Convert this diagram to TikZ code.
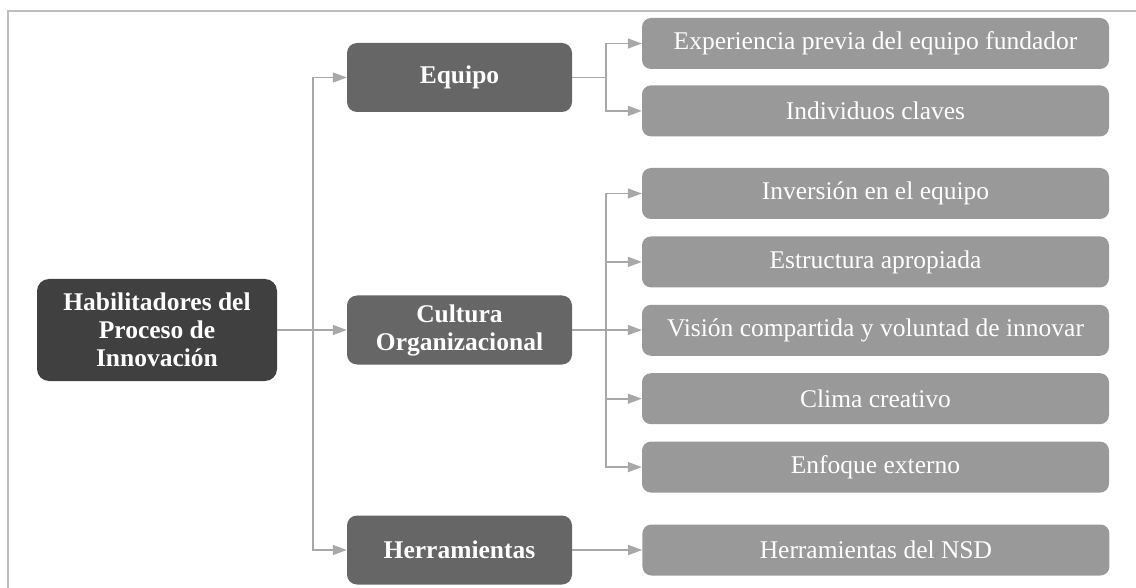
\documentclass[tikz,border=0pt]{standalone}
\usepackage{fontspec}
\setmainfont{Liberation Serif}
\usepackage{tikz}
\usetikzlibrary{arrows.meta, positioning}

\definecolor{raizgris}{HTML}{404040}
\definecolor{grupogris}{HTML}{666666}
\definecolor{hojagris}{HTML}{999999}
\definecolor{lineagris}{HTML}{A8A8A8}
\definecolor{marcogris}{HTML}{BEBEBE}

\begin{document}
\begin{tikzpicture}[
      x=1pt, y=-1pt,
      font=\fontsize{25.5}{28}\selectfont,
      raiz/.style={
          rectangle,
          rounded corners=12pt,
          align=center,
          minimum width=240pt,
          minimum height=102pt,
          inner sep=0pt,
          text=white,
          font=\fontsize{25.5}{28}\selectfont\bfseries,
          fill=raizgris
        },
      grupo/.style={
          rectangle,
          rounded corners=10pt,
          align=center,
          minimum width=225pt,
          minimum height=69pt,
          inner sep=0pt,
          text=white,
          font=\fontsize{25.5}{28}\selectfont\bfseries,
          fill=grupogris
        },
      hoja/.style={
          rectangle,
          rounded corners=9pt,
          align=center,
          minimum width=467pt,
          minimum height=51pt,
          inner sep=0pt,
          text=white,
          fill=hojagris
        },
      linea/.style={
          draw=lineagris,
          line width=1.6pt
        },
      flecha/.style={
          linea,
          -{Triangle[length=14pt,width=10pt]}
        }
    ]
    \useasboundingbox (0,0) rectangle (1136,588);

    % Marco
    \draw[draw=marcogris, line width=2pt] (8,590) -- (8,11) -- (1138,11);

    % Raiz
    \node[raiz] (habil) at (157,330) {Habilitadores del\\Proceso de\\Innovación};

    % Grupos
    \node[grupo] (equipo) at (459.5,77.5) {Equipo};
    \node[grupo] (cultura) at (459.5,330) {Cultura\\Organizacional};
    \node[grupo] (herram) at (459.5,550) {Herramientas};

    % Hojas: Equipo
    \node[hoja] (exper) at (875.5,43.5) {Experiencia previa del equipo fundador};
    \node[hoja, below=16pt of exper] (indiv) {Individuos claves};

    % Hojas: Cultura
    \node[hoja] (invers) at (875.5,193.5) {Inversión en el equipo};
    \node[hoja, below=17pt of invers] (estruc) {Estructura apropiada};
    \node[hoja, below=17pt of estruc] (vision) {Visión compartida y voluntad de innovar};
    \node[hoja, below=17pt of vision] (clima) {Clima creativo};
    \node[hoja, below=17pt of clima] (enfoque) {Enfoque externo};

    % Hojas: Herramientas
    \node[hoja, right=70pt of herram] (nsd) {Herramientas del NSD};

    % Puntos de rama
    \coordinate (tronco) at (313,330);
    \coordinate (ramaE) at (606,77.5);
    \coordinate (ramaC) at (606,330);

    % Tronco
    \draw[flecha] (habil) -- (cultura);
    \draw[flecha] (tronco) |- (equipo);
    \draw[flecha] (tronco) |- (herram);

    % Rama Equipo
    \draw[linea] (equipo) -- (ramaE);
    \draw[flecha] (ramaE) |- (exper);
    \draw[flecha] (ramaE) |- (indiv);

    % Rama Cultura
    \draw[linea] (cultura) -- (ramaC);
    \draw[flecha] (ramaC) |- (invers);
    \draw[flecha] (ramaC) |- (estruc);
    \draw[flecha] (ramaC) -- (vision);
    \draw[flecha] (ramaC) |- (clima);
    \draw[flecha] (ramaC) |- (enfoque);

    % Rama Herramientas
    \draw[flecha] (herram) -- (nsd);
  \end{tikzpicture}
\end{document}
